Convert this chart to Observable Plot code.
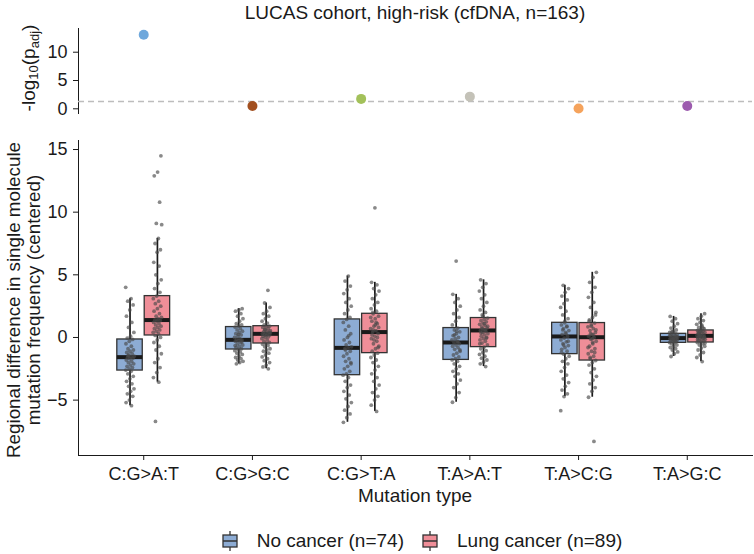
<!DOCTYPE html>
<html>
<head>
<meta charset="utf-8">
<script src="https://cdn.jsdelivr.net/npm/d3@7"></script>
<script src="https://cdn.jsdelivr.net/npm/@observablehq/plot@0.6"></script>
<style>
  body { margin: 0; background: #fff; }
  #wrap { position: relative; width: 754px; height: 554px; font-family: "Liberation Sans", Arial, sans-serif; color: #1a1a1a; overflow: hidden; }
  #wrap > svg, #wrap > figure { position: absolute; left: 0; margin: 0; }
  .lbl { position: absolute; white-space: nowrap; }
</style>
</head>
<body>
<div id="wrap"></div>
<script>
// ---------- data ----------
const categories = ["C:G>A:T", "C:G>G:C", "C:G>T:A", "T:A>A:T", "T:A>C:G", "T:A>G:C"];
const groups = ["No cancer (n=74)", "Lung cancer (n=89)"];
const groupColors = ["#8DACD4", "#EF8E98"];

// top panel: -log10(p_adj) per mutation type
const negLog10Padj = [13.1, 0.5, 1.75, 2.15, 0.05, 0.5];
const pointColors = ["#6FA8DC", "#A24F1F", "#A3C15A", "#C4C2B8", "#F5A35C", "#9C5BAE"];
const threshold = 1.3;

// box statistics
const noQ1     = [-2.64, -0.96, -3.01, -1.79, -1.33, -0.43];
const noMedian = [-1.57, -0.19, -0.83, -0.40,  0.08, -0.05];
const noQ3     = [-0.16,  0.83,  1.44,  0.75,  1.17,  0.29];
const noLow    = [-5.44, -2.10, -6.77, -5.17, -4.72, -1.52];
const noHigh   = [ 3.10,  2.30,  4.90,  3.44,  4.16,  1.68];
const lungQ1     = [0.16, -0.48, -1.25, -0.77, -1.84, -0.40];
const lungMedian = [1.39,  0.29,  0.43,  0.56,  0.02,  0.13];
const lungQ3     = [3.30,  0.90,  1.89,  1.55,  1.15,  0.56];
const lungLow    = [-3.57, -2.50, -5.90, -2.32, -4.77, -1.92];
const lungHigh   = [7.90,  2.75,  4.40,  4.60,  5.20,  1.90];

// individual samples
const noValues = [
  [4.0,3.1,2.9,2.6,2.2,1.7,1.2,0.8,0.4,0.1,-0.05,-0.16,-0.3,-0.5,-0.7,-0.9,-1.0,-1.1,-1.2,-1.3,-1.4,-1.5,-1.55,-1.6,-1.65,-1.7,-1.8,-1.9,-2.0,-2.1,-2.2,-2.3,-2.4,-2.5,-2.6,-2.7,-2.9,-3.1,-3.3,-3.5,-3.7,-3.9,-4.1,-4.3,-4.5,-4.7,-5.0,-5.2,-5.44,-1.45],
  [2.3,2.2,2.1,1.9,1.7,1.5,1.3,1.1,1.0,0.9,0.83,0.7,0.6,0.5,0.4,0.3,0.2,0.1,0.0,-0.1,-0.15,-0.2,-0.25,-0.3,-0.4,-0.5,-0.6,-0.7,-0.8,-0.9,-0.96,-1.05,-1.15,-1.25,-1.35,-1.5,-1.6,-1.7,-1.8,-1.9,-2.0,-2.1,-0.35,0.25,-0.65],
  [4.9,4.5,4.1,3.8,3.5,3.1,2.8,2.5,2.2,1.9,1.6,1.44,1.2,0.9,0.6,0.3,0.0,-0.2,-0.4,-0.6,-0.75,-0.83,-0.9,-1.1,-1.3,-1.5,-1.7,-1.9,-2.1,-2.3,-2.5,-2.7,-2.9,-3.01,-3.2,-3.5,-3.8,-4.0,-4.3,-4.6,-4.9,-5.2,-5.5,-5.8,-6.1,-6.4,-6.77,0.15,-1.0,-2.0],
  [6.1,3.44,3.1,2.8,2.5,2.2,1.9,1.6,1.3,1.0,0.75,0.6,0.45,0.3,0.15,0.0,-0.1,-0.2,-0.3,-0.4,-0.5,-0.6,-0.7,-0.8,-0.95,-1.1,-1.25,-1.4,-1.55,-1.7,-1.79,-1.9,-2.1,-2.3,-2.5,-2.7,-2.9,-3.1,-3.4,-3.7,-4.0,-4.4,-4.8,-5.17,-0.35,0.2,-1.0,0.5],
  [4.16,3.9,3.6,3.3,3.0,2.7,2.4,2.1,1.8,1.5,1.17,1.0,0.85,0.7,0.55,0.4,0.25,0.08,-0.05,-0.2,-0.35,-0.5,-0.65,-0.8,-0.95,-1.1,-1.33,-1.5,-1.7,-1.9,-2.1,-2.4,-2.7,-3.0,-3.3,-3.6,-3.9,-4.2,-4.5,-4.72,-5.84,0.3,0.6,-0.3,1.3,-1.2,0.9,-0.6],
  [1.68,1.5,1.3,1.1,0.9,0.75,0.6,0.5,0.4,0.35,0.29,0.25,0.2,0.15,0.1,0.07,0.04,0.0,-0.02,-0.05,-0.08,-0.11,-0.14,-0.17,-0.2,-0.24,-0.28,-0.32,-0.36,-0.4,-0.43,-0.5,-0.6,-0.7,-0.8,-0.9,-1.0,-1.15,-1.3,-1.52,0.05,-0.1,0.18,-0.3,0.45]
];
const lungValues = [
  [14.5,13.2,12.9,10.8,9.1,9.0,7.9,7.5,7.0,6.8,6.0,5.7,5.0,4.6,4.3,3.9,3.6,3.3,3.1,2.9,2.7,2.5,2.3,2.1,1.9,1.7,1.6,1.5,1.4,1.35,1.3,1.2,1.1,1.0,0.9,0.8,0.7,0.6,0.5,0.4,0.3,0.16,0.0,-0.2,-0.4,-0.7,-1.0,-1.3,-1.7,-2.0,-2.4,-2.8,-3.2,-3.57,-6.7],
  [3.76,2.75,2.4,2.1,1.9,1.7,1.5,1.3,1.15,1.0,0.9,0.85,0.8,0.7,0.6,0.55,0.5,0.45,0.4,0.35,0.3,0.29,0.25,0.2,0.15,0.1,0.05,0.0,-0.1,-0.2,-0.3,-0.4,-0.48,-0.55,-0.65,-0.75,-0.9,-1.0,-1.1,-1.25,-1.4,-1.55,-1.7,-1.85,-2.0,-2.2,-2.35,-2.5,0.65,0.4],
  [10.35,4.4,4.2,3.9,3.7,3.4,3.1,2.8,2.6,2.3,2.1,1.89,1.7,1.5,1.3,1.1,0.9,0.7,0.55,0.43,0.3,0.1,-0.1,-0.3,-0.5,-0.7,-0.9,-1.1,-1.25,-1.4,-1.6,-1.8,-2.0,-2.3,-2.6,-2.9,-3.2,-3.5,-3.8,-4.1,-4.4,-4.7,-5.0,-5.4,-5.9,0.6,0.8,1.0,0.2,0.0,-0.2,1.6,1.2,2.0,-0.8],
  [4.6,4.3,4.0,3.7,3.4,3.1,2.8,2.5,2.2,2.0,1.8,1.55,1.45,1.35,1.25,1.15,1.05,0.95,0.85,0.75,0.65,0.56,0.5,0.4,0.3,0.2,0.1,0.0,-0.1,-0.2,-0.3,-0.45,-0.6,-0.77,-0.9,-1.05,-1.2,-1.35,-1.5,-1.65,-1.8,-1.95,-2.1,-2.32,0.7,0.9,1.1,0.35,-0.05,1.7,-0.5,0.6],
  [5.2,4.8,4.4,4.0,3.6,3.2,2.8,2.4,2.0,1.6,1.3,1.15,1.0,0.85,0.7,0.55,0.4,0.25,0.1,0.0,-0.15,-0.3,-0.5,-0.7,-0.9,-1.1,-1.3,-1.5,-1.7,-1.84,-2.0,-2.2,-2.5,-2.8,-3.1,-3.4,-3.7,-4.0,-4.3,-4.77,-8.3,0.3,0.6,-0.4,1.4,-1.2,0.9,-0.8,0.2,-1.6,1.8,-0.1],
  [1.9,1.7,1.5,1.35,1.2,1.05,0.9,0.8,0.7,0.62,0.56,0.5,0.45,0.4,0.35,0.3,0.25,0.2,0.16,0.13,0.1,0.06,0.02,-0.02,-0.06,-0.1,-0.15,-0.2,-0.25,-0.3,-0.35,-0.4,-0.5,-0.6,-0.7,-0.85,-1.0,-1.2,-1.4,-1.6,-1.92,0.28,0.0,0.48,-0.18,0.75,0.12,-0.45,1.0,0.38]
];

// ---------- derived tables ----------
const DODGE = 0.126, HALF = 0.117;
const boxes = [];
categories.forEach((c, i) => {
  boxes.push({i, g: 0, off: -DODGE, q1: noQ1[i], med: noMedian[i], q3: noQ3[i], lo: noLow[i], hi: noHigh[i]});
  boxes.push({i, g: 1, off: DODGE, q1: lungQ1[i], med: lungMedian[i], q3: lungQ3[i], lo: lungLow[i], hi: lungHigh[i]});
});
const pts = [];
let k = 0;
categories.forEach((c, i) => {
  noValues[i].forEach(v => pts.push({i, off: -DODGE, v, k: k++}));
  lungValues[i].forEach(v => pts.push({i, off: DODGE, v, k: k++}));
});
const jit = d => ((d.k * 0.6180339887) % 1 - 0.5) * 0.08;
const topData = categories.map((c, i) => ({i, v: negLog10Padj[i], col: pointColors[i]}));

const baseStyle = {fontFamily: "Liberation Sans, Arial, sans-serif", fontSize: "18px", color: "#1a1a1a", background: "transparent", overflow: "visible"};
const xDomain = [-0.6, 5.6];

// ---------- top panel ----------
const topPlot = Plot.plot({
  width: 754, height: 125,
  marginTop: 28, marginBottom: 12, marginLeft: 78, marginRight: 2,
  style: baseStyle,
  x: {domain: xDomain, axis: null},
  y: {domain: [-0.83, 14.19], ticks: [0, 5, 10], tickSize: 5, tickPadding: 6, line: true, label: null},
  color: {type: "identity"},
  marks: [
    Plot.ruleY([threshold], {stroke: "#bdbdbd", strokeWidth: 1.5, strokeDasharray: "6,4"}),
    Plot.dot(topData, {x: "i", y: "v", r: 5, fill: "col"})
  ]
});
topPlot.style.top = "0px";

// ---------- main panel ----------
const mainPlot = Plot.plot({
  width: 754, height: 380,
  marginTop: 15, marginBottom: 50, marginLeft: 78, marginRight: 2,
  style: baseStyle,
  x: {domain: xDomain, ticks: [0, 1, 2, 3, 4, 5], tickFormat: i => categories[i], tickSize: 5, tickPadding: 7, line: true, label: null},
  y: {domain: [-9.42, 15.72], ticks: [-5, 0, 5, 10, 15], tickSize: 5, tickPadding: 6, line: true, label: null},
  color: {domain: groups, range: groupColors},
  marks: [
    Plot.ruleX(boxes, {x: d => d.i + d.off, y1: "lo", y2: "hi", stroke: "#1a1a1a", strokeWidth: 1.7}),
    Plot.rect(boxes, {x1: d => d.i + d.off - HALF, x2: d => d.i + d.off + HALF, y1: "q1", y2: "q3",
      fill: d => groups[d.g], stroke: "#333", strokeWidth: 1.3}),
    Plot.ruleY(boxes, {x1: d => d.i + d.off - HALF, x2: d => d.i + d.off + HALF, y: "med", stroke: "#1a1a1a", strokeWidth: 4}),
    Plot.dot(pts, {x: d => d.i + d.off + jit(d), y: "v", r: 1.9, fill: "#4a4a4a", fillOpacity: 0.65})
  ]
});
mainPlot.style.top = "125px";

const wrap = document.getElementById("wrap");
wrap.appendChild(topPlot);
wrap.appendChild(mainPlot);

// ---------- text labels ----------
function addLabel(html, css) {
  const d = document.createElement("div");
  d.className = "lbl";
  d.innerHTML = html;
  Object.assign(d.style, css);
  wrap.appendChild(d);
  return d;
}
addLabel("LUCAS cohort, high-risk (cfDNA, n=163)", {left: "78px", width: "674px", top: "1px", textAlign: "center", fontSize: "19px", lineHeight: "24px"});
addLabel("-log<sub style='font-size:13px;vertical-align:-3px'>10</sub>(p<sub style='font-size:13px;vertical-align:-4px'>adj</sub>)",
  {left: "32px", top: "68px", fontSize: "19px", lineHeight: "22px", transform: "translate(-50%,-50%) rotate(-90deg)"});
addLabel("Regional difference in single molecule<br>mutation frequency (centered)",
  {left: "24px", top: "300px", fontSize: "18.8px", lineHeight: "20px", textAlign: "center", transform: "translate(-50%,-50%) rotate(-90deg)"});
addLabel("Mutation type", {left: "78px", width: "674px", top: "484px", textAlign: "center", fontSize: "19px", lineHeight: "24px"});

// legend
const legend = document.createElement("div");
Object.assign(legend.style, {position: "absolute", left: "85px", width: "674px", top: "529px", display: "flex", justifyContent: "center", alignItems: "center", fontSize: "19px", lineHeight: "24px"});
groups.forEach((g, j) => {
  const item = document.createElement("div");
  Object.assign(item.style, {display: "flex", alignItems: "center", marginRight: j === 0 ? "18px" : "0"});
  item.innerHTML = `<svg width="16" height="22" style="margin-right:19px"><line x1="8" y1="1" x2="8" y2="21" stroke="#333" stroke-width="1.3"/><rect x="1" y="5" width="14" height="12" fill="${groupColors[j]}" stroke="#333" stroke-width="1.3"/><line x1="1" x2="15" y1="11" y2="11" stroke="#333" stroke-width="1.5"/></svg><span>${g}</span>`;
  legend.appendChild(item);
});
wrap.appendChild(legend);
</script>
</body>
</html>
